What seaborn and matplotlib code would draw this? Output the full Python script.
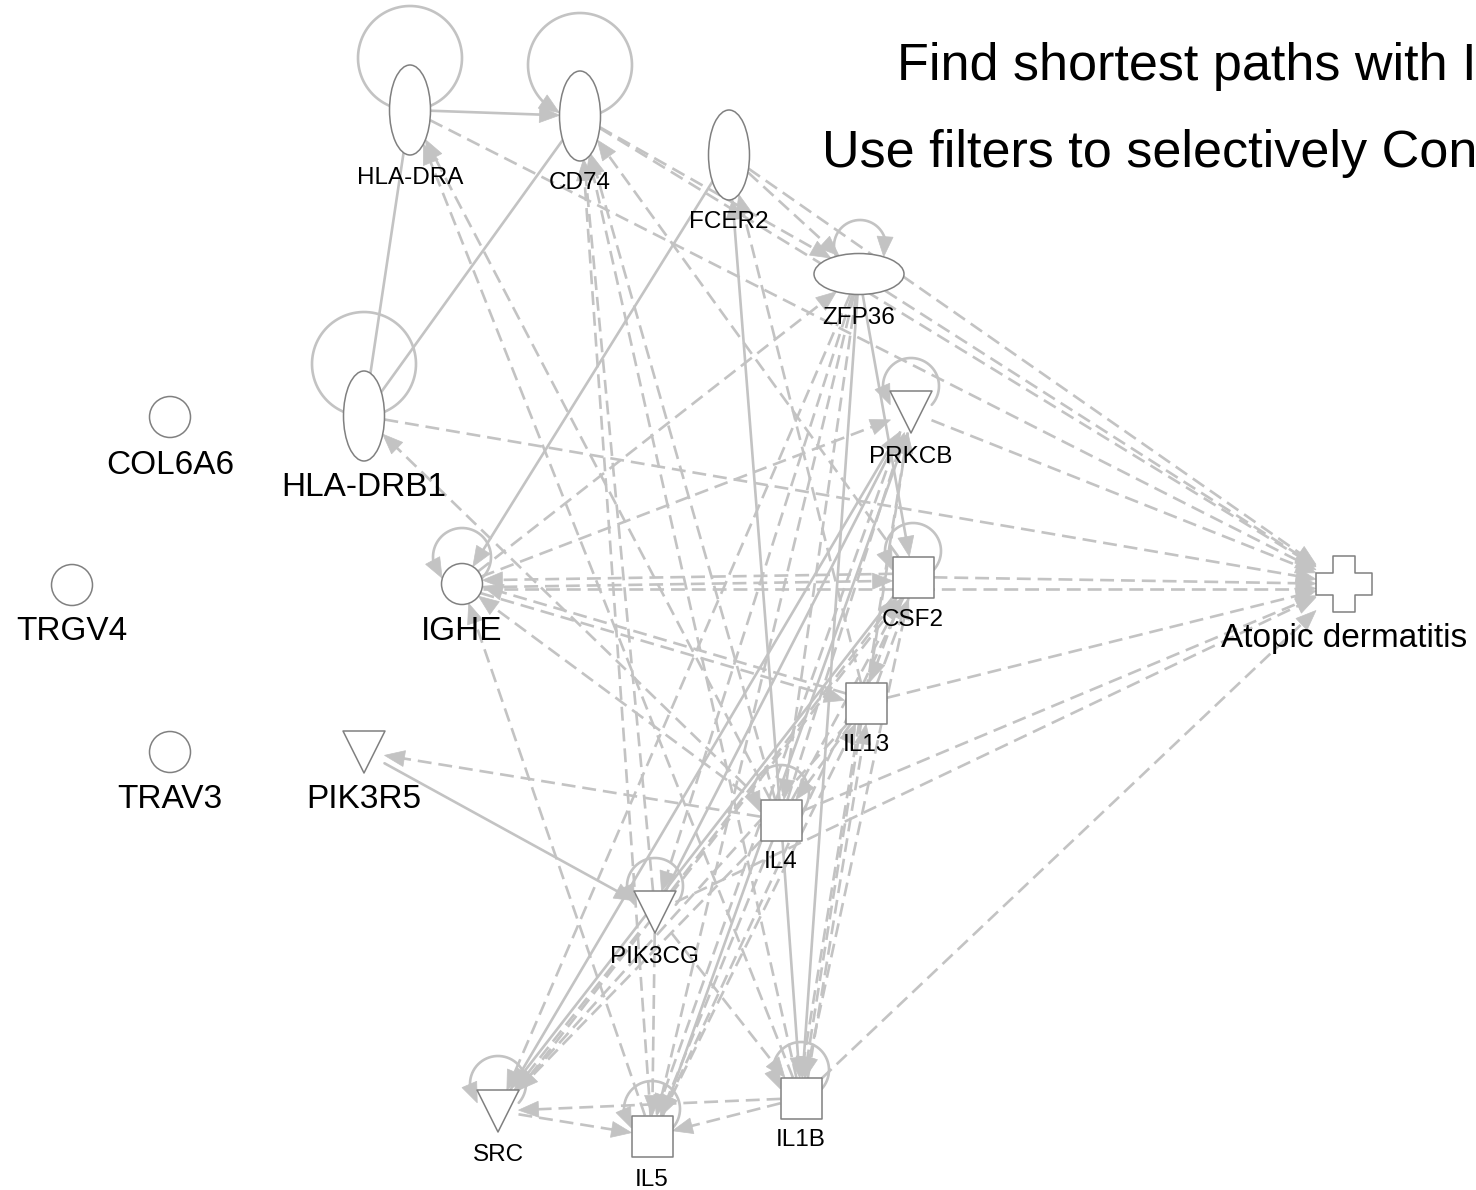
import numpy as np
import pandas as pd
import seaborn as sns
import matplotlib.pyplot as plt
from matplotlib.path import Path
from matplotlib.patches import Polygon
import matplotlib.transforms as mtrans

sns.set_style("white")
plt.rcParams['font.family'] = ['Liberation Sans', 'DejaVu Sans']
plt.rcParams['lines.scale_dashes'] = False

# nodes (pixel layout of the network)
node_names = ['HLA-DRA', 'CD74', 'FCER2', 'ZFP36', 'HLA-DRB1', 'COL6A6', 'TRGV4',
              'TRAV3', 'PIK3R5', 'IGHE', 'PRKCB', 'CSF2', 'IL13', 'IL4', 'PIK3CG',
              'SRC', 'IL5', 'IL1B', 'Atopic dermatitis']
node_x = [410, 580, 729, 859, 364, 170, 72, 170, 364, 462, 911, 913, 866, 781, 655,
          498, 652, 801, 1344]
node_y = [110, 116, 155, 274, 416, 417, 585, 752, 752, 584, 412, 577, 703, 820, 912,
          1111, 1136, 1098, 584]
node_shape = ['vell', 'vell', 'vell', 'hell', 'vell', 'circle', 'circle', 'circle', 'tri',
              'circle', 'tri', 'square', 'square', 'square', 'tri', 'tri', 'square',
              'square', 'cross']
label_y = [178, 183, 222, 318, 488, 465, 632, 800, 800, 632, 457, 620, 745, 862, 957,
           1155, 1180, 1140, 638]
label_big = ['HLA-DRB1', 'COL6A6', 'TRGV4', 'TRAV3', 'PIK3R5', 'IGHE', 'Atopic dermatitis']

AD = 'Atopic dermatitis'
solid_arrow = [('HLA-DRA', 'CD74'), ('FCER2', 'IGHE'), ('IL4', 'FCER2'),
               ('PIK3R5', 'PIK3CG'), ('ZFP36', 'CSF2'), ('ZFP36', 'IL1B'),
               ('IL4', 'IL1B'), ('PIK3CG', 'PRKCB'), ('SRC', 'PRKCB'),
               ('CSF2', 'SRC'), ('IL5', 'PRKCB')]
solid_plain = [('HLA-DRB1', 'HLA-DRA'), ('HLA-DRB1', 'CD74')]
dashed_arrow = [
    ('HLA-DRA', AD), ('CD74', AD), ('FCER2', AD), ('ZFP36', AD), ('HLA-DRB1', AD),
    ('PRKCB', AD), ('IGHE', AD), ('CSF2', AD), ('IL13', AD), ('IL4', AD),
    ('PIK3CG', AD), ('IL1B', AD),
    ('IL4', 'HLA-DRA'), ('IL1B', 'HLA-DRA'),
    ('CD74', 'ZFP36'), ('IL5', 'CD74'), ('PIK3CG', 'CD74'), ('IL1B', 'CD74'),
    ('IL4', 'CD74'), ('CSF2', 'CD74'),
    ('FCER2', 'ZFP36'), ('IL13', 'FCER2'),
    ('IGHE', 'ZFP36'), ('ZFP36', 'IL4'), ('ZFP36', 'IL5'), ('ZFP36', 'PIK3CG'),
    ('ZFP36', 'SRC'),
    ('IL4', 'HLA-DRB1'),
    ('IGHE', 'PRKCB'), ('IL4', 'PRKCB'), ('IL13', 'PRKCB'),
    ('IGHE', 'CSF2'), ('IL13', 'IGHE'), ('IL4', 'IGHE'), ('IL5', 'IGHE'), ('CSF2', 'IGHE'),
    ('IGHE', 'IL13'), ('CSF2', 'IL13'), ('IL13', 'CSF2'), ('IL4', 'CSF2'),
    ('PIK3CG', 'CSF2'), ('SRC', 'CSF2'),
    ('IL13', 'IL4'), ('IL5', 'IL13'), ('IL1B', 'IL13'),
    ('IL4', 'PIK3R5'), ('IL4', 'IL5'), ('IL4', 'SRC'),
    ('PIK3CG', 'IL5'), ('PIK3CG', 'SRC'), ('PIK3CG', 'IL1B'),
    ('SRC', 'IL5'), ('IL1B', 'SRC'), ('IL1B', 'IL5'),
    ('IL13', 'IL1B'), ('CSF2', 'IL1B'), ('PRKCB', 'IL1B'),
    ('IL13', 'SRC'), ('PRKCB', 'IL5'), ('CSF2', 'IL5'),
]

# self loops: node, centre, radius, arrow end
loop_nodes = ['HLA-DRA', 'CD74', 'HLA-DRB1', 'ZFP36', 'IGHE', 'PRKCB', 'CSF2', 'IL4',
              'PIK3CG', 'SRC', 'IL5', 'IL1B']
loop_cx = [410, 580, 364, 860, 462, 911, 913, 781, 655, 498, 652, 801]
loop_cy = [58, 65, 364, 246, 557, 386, 551, 793, 886, 1084, 1109, 1070]
loop_r = [52, 52, 52, 26, 29, 28, 28, 28, 28, 28, 28, 28]
loop_arrow = [None, 'left', None, 'right', 'left', 'left', 'left', 'left', 'left',
              'left', 'left', 'left']

EDGE = '#c3c3c3'
OUTLINE = '#808080'
pos = {n: np.array([x, y], float) for n, x, y in zip(node_names, node_x, node_y)}
shape_of = dict(zip(node_names, node_shape))
HALF = {'vell': (20.5, 45), 'hell': (45, 20.5), 'circle': (20.5, 20.5),
        'square': (20.5, 20.5), 'tri': (20.5, 20.5), 'cross': (28, 28)}
all_pairs = set(dashed_arrow) | set(solid_arrow) | set(solid_plain)


def boundary(name, u):
    a, b = HALF[shape_of[name]]
    if shape_of[name] in ('vell', 'hell', 'circle'):
        t = 1 / np.sqrt((u[0] / a) ** 2 + (u[1] / b) ** 2)
    else:
        t = 1 / max(abs(u[0]) / a, abs(u[1]) / b)
    return pos[name] + u * t


def inside(name, p):
    a, b = HALF[shape_of[name]]
    d = p - pos[name]
    if shape_of[name] in ('vell', 'hell', 'circle'):
        return (d[0] / a) ** 2 + (d[1] / b) ** 2 <= 1
    return abs(d[0]) <= a and abs(d[1]) <= b


fig = plt.figure(figsize=(14.76, 11.9), dpi=100)
ax = fig.add_axes([0, 0, 1, 1])
ax.set_xlim(0, 1476)
ax.set_ylim(1190, 0)

HL, HW = 20, 8


def arrowhead(tip, u):
    base = tip - u * HL
    perp = np.array([-u[1], u[0]])
    ax.add_patch(Polygon([tip, base + perp * HW, base - perp * HW], closed=True,
                         fc=EDGE, ec=EDGE, lw=0.5, zorder=2))


def edge(s, t, dashed, arrow):
    d = pos[t] - pos[s]
    u = d / np.hypot(*d)
    a = boundary(s, u)
    b = boundary(t, -u)
    perp = np.array([-u[1], u[0]])
    off = 0.0
    if (t, s) in all_pairs:
        off = 3.5
    if (s, t) == ('IGHE', AD):
        off = 4.5
    a = a + perp * off
    b = b + perp * off
    end = b - u * (HL - 2) if arrow else b
    ls = (0, (10, 5)) if dashed else '-'
    ax.plot([a[0], end[0]], [a[1], end[1]], color=EDGE, lw=1.9, ls=ls, zorder=1)
    if arrow:
        arrowhead(b, u)


for s, t in dashed_arrow:
    edge(s, t, True, True)
for s, t in solid_arrow:
    edge(s, t, False, True)
for s, t in solid_plain:
    edge(s, t, False, False)

for n, cx, cy, r, side in zip(loop_nodes, loop_cx, loop_cy, loop_r, loop_arrow):
    th = np.linspace(np.pi / 2, np.pi / 2 + 2 * np.pi, 400)
    pts = np.column_stack([cx + r * np.cos(th), cy + r * np.sin(th)])
    keep = np.array([not inside(n, p) for p in pts])
    pts = pts[keep]
    if side == 'left':
        tip = pts[0]
        far = np.hypot(*(pts - tip).T) > HL - 2
        pts_draw = pts[far]
        u = tip - pts_draw[0]
        arrowhead(tip, u / np.hypot(*u))
    elif side == 'right':
        tip = pts[-1]
        far = np.hypot(*(pts - tip).T) > HL - 2
        pts_draw = pts[far]
        u = tip - pts_draw[-1]
        arrowhead(tip, u / np.hypot(*u))
    else:
        pts_draw = pts
    ax.plot(pts_draw[:, 0], pts_draw[:, 1], color=EDGE, lw=1.9, zorder=1)

# node markers
circ = Path.unit_circle()
tri = Path([(-0.5, 0.5), (0.5, 0.5), (0, -0.5), (-0.5, 0.5)],
           [Path.MOVETO, Path.LINETO, Path.LINETO, Path.CLOSEPOLY])
sq = Path([(-0.5, -0.5), (0.5, -0.5), (0.5, 0.5), (-0.5, 0.5), (-0.5, -0.5)],
          [Path.MOVETO, Path.LINETO, Path.LINETO, Path.LINETO, Path.CLOSEPOLY])
h, o = 0.19, 0.5
cross_v = [(-h, o), (h, o), (h, h), (o, h), (o, -h), (h, -h), (h, -o), (-h, -o),
           (-h, -h), (-o, -h), (-o, h), (-h, h), (-h, o)]
cross = Path(cross_v, [Path.MOVETO] + [Path.LINETO] * 11 + [Path.CLOSEPOLY])
markers = {'vell': circ.transformed(mtrans.Affine2D().scale(20.5 / 45, 1)),
           'hell': circ.transformed(mtrans.Affine2D().scale(1, 20.5 / 45)),
           'circle': circ, 'square': sq, 'tri': tri, 'cross': cross}
px = 72 / 100
sizes = {'vell': (90 * px) ** 2, 'hell': (90 * px) ** 2, 'circle': (41 * px) ** 2,
         'square': (41 * px) ** 2, 'tri': (42 * px) ** 2, 'cross': (56 * px) ** 2}

df = pd.DataFrame({'x': node_x, 'y': node_y, 'shape': node_shape})
sns.scatterplot(data=df, x='x', y='y', style='shape', size='shape', markers=markers,
                sizes=sizes, color='white', edgecolor=OUTLINE, linewidth=1.1,
                legend=False, ax=ax, zorder=3)

for n, x, ly in zip(node_names, node_x, label_y):
    big = n in label_big
    ax.text(x, ly, n, ha='center', va='center', fontsize=24 if big else 17.5,
            color='black', zorder=4)

# header lines run off the right edge, as in the original screenshot
ax.text(897, 80, 'Find shortest paths with IPA', fontsize=37.5, ha='left',
        va='baseline', color='black')
ax.text(822, 167, 'Use filters to selectively Connect', fontsize=37.5, ha='left',
        va='baseline', color='black')

ax.set_xlim(0, 1476)
ax.set_ylim(1190, 0)
ax.axis('off')
fig.savefig('out.png', dpi=100, facecolor='white')
